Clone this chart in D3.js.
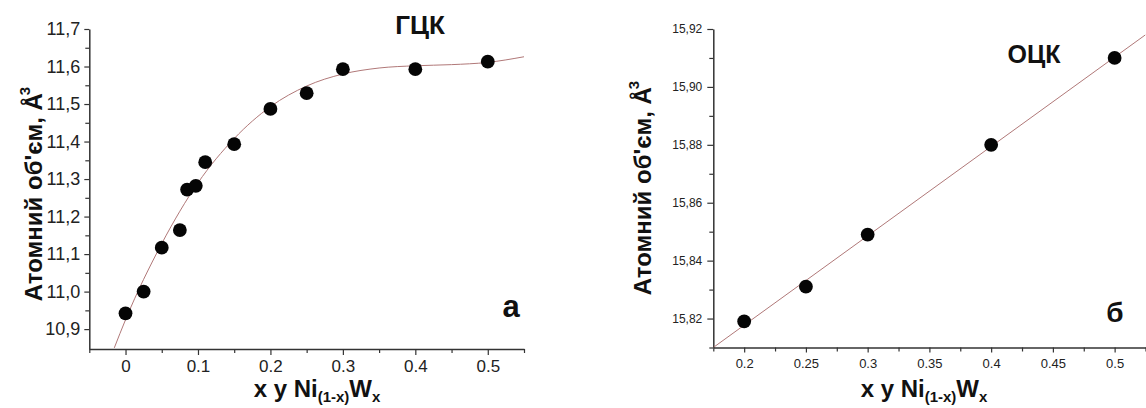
<!DOCTYPE html>
<html>
<head>
<meta charset="utf-8">
<script src="https://cdn.jsdelivr.net/npm/d3@7"></script>
<style>
  html, body { margin: 0; padding: 0; background: #fff; }
  svg { display: block; font-family: "Liberation Sans", Arial, sans-serif; }
  .axis path, .axis line { stroke: #333; }
  .axis path { stroke-width: 1.5; }
  .axis line { stroke-width: 1.2; }
  .axis text { fill: #222; }
</style>
</head>
<body>
<svg id="chart" width="1146" height="408"></svg>
<script>
// FCC (ГЦК) atomic volume vs tungsten fraction
const fccX = [0, 0.025, 0.05, 0.075, 0.085, 0.097, 0.11, 0.15, 0.2, 0.25, 0.3, 0.4, 0.5];
const fccV = [10.942, 11.0, 11.117, 11.164, 11.272, 11.282, 11.345, 11.393, 11.487, 11.529, 11.593, 11.593, 11.613];
// smooth fit curve through the FCC data
const fccFitX = [-0.0155, 0, 0.05, 0.1, 0.15, 0.2, 0.25, 0.3, 0.35, 0.4, 0.45, 0.5, 0.55];
const fccFitV = [10.85, 10.925, 11.128, 11.29, 11.408, 11.493, 11.548, 11.58, 11.596, 11.602, 11.605, 11.611, 11.626];
// FCC axis ticks
const fccXTicks = [0, 0.1, 0.2, 0.3, 0.4, 0.5];
const fccXMinor = [-0.05, 0.05, 0.15, 0.25, 0.35, 0.45, 0.55];
const fccYTicks = [10.9, 11.0, 11.1, 11.2, 11.3, 11.4, 11.5, 11.6, 11.7];
const fccYMinor = [10.95, 11.05, 11.15, 11.25, 11.35, 11.45, 11.55, 11.65];

// BCC (ОЦК) atomic volume vs tungsten fraction
const bccX = [0.2, 0.25, 0.3, 0.4, 0.5];
const bccV = [15.819, 15.831, 15.849, 15.880, 15.910];
// linear fit line
const bccFitX = [0.175, 0.525];
const bccFitV = [15.81, 15.918];
// BCC axis ticks
const bccXTicks = [0.2, 0.25, 0.3, 0.35, 0.4, 0.45, 0.5];
const bccXMinor = [0.175, 0.225, 0.275, 0.325, 0.375, 0.425, 0.475, 0.525];
const bccYTicks = [15.82, 15.84, 15.86, 15.88, 15.90, 15.92];
const bccYMinor = [15.81, 15.83, 15.85, 15.87, 15.89, 15.91];

const svg = d3.select("#chart");
const FIT_COLOR = "#b07878";
const yTitle = "Атомний об'єм, Å";

function panel(opts) {
  const g = svg.append("g");
  const x = d3.scaleLinear().domain(opts.xDomain).range(opts.xRange);
  const y = d3.scaleLinear().domain(opts.yDomain).range(opts.yRange);
  const [x0, x1] = opts.xRange;
  const [yb, yt] = opts.yRange;

  const clipId = "clip-" + opts.id;
  svg.append("clipPath").attr("id", clipId)
    .append("rect").attr("x", x0).attr("y", yt).attr("width", x1 - x0).attr("height", yb - yt);

  // minor ticks
  g.append("g").attr("class", "axis").attr("transform", `translate(0,${yb})`)
    .call(d3.axisBottom(x).tickValues(opts.xMinor).tickSize(opts.xMinorLen).tickFormat(""))
    .call(s => s.select(".domain").remove());
  g.append("g").attr("class", "axis").attr("transform", `translate(${x0},0)`)
    .call(d3.axisLeft(y).tickValues(opts.yMinor).tickSize(opts.yMinorLen).tickFormat(""))
    .call(s => s.select(".domain").remove());

  // major ticks with labels
  const xa = g.append("g").attr("class", "axis").attr("transform", `translate(0,${yb})`)
    .call(d3.axisBottom(x).tickValues(opts.xTicks).tickSizeInner(opts.xMajorLen).tickSizeOuter(0)
      .tickPadding(opts.xPad).tickFormat(opts.xFormat));
  xa.selectAll("text").attr("font-size", opts.tickFont).attr("font-family", "Liberation Sans, Arial, sans-serif");

  const ya = g.append("g").attr("class", "axis").attr("transform", `translate(${x0},0)`)
    .call(d3.axisLeft(y).tickValues(opts.yTicks).tickSizeInner(opts.yMajorLen).tickSizeOuter(0)
      .tickPadding(opts.yPad).tickFormat(opts.yFormat));
  ya.selectAll("text").attr("font-size", opts.yTickFont).attr("font-family", "Liberation Sans, Arial, sans-serif");

  // fit line
  const fitData = opts.fitX.map((d, i) => [d, opts.fitV[i]]);
  g.append("path")
    .datum(fitData)
    .attr("clip-path", `url(#${clipId})`)
    .attr("fill", "none")
    .attr("stroke", FIT_COLOR)
    .attr("stroke-width", 1)
    .attr("d", d3.line().x(d => x(d[0])).y(d => y(d[1])).curve(d3.curveMonotoneX));

  // data points
  const pts = opts.dataX.map((d, i) => [d, opts.dataV[i]]);
  g.append("g").selectAll("circle").data(pts).join("circle")
    .attr("cx", d => x(d[0])).attr("cy", d => y(d[1]))
    .attr("r", 6.9).attr("fill", "#050505");

  // y axis title
  const yt2 = g.append("text")
    .attr("transform", `translate(${opts.yTitlePos[0]},${opts.yTitlePos[1]}) rotate(-90)`)
    .attr("text-anchor", "middle")
    .attr("font-size", 24).attr("font-weight", "bold").attr("fill", "#111");
  yt2.append("tspan").text(yTitle);
  yt2.append("tspan").attr("font-size", 15).attr("dy", -12).attr("dx", -2).text("3");

  // x axis title
  const xt = g.append("text")
    .attr("x", opts.xTitlePos[0]).attr("y", opts.xTitlePos[1])
    .attr("text-anchor", "middle")
    .attr("font-size", 24).attr("font-weight", "bold").attr("fill", "#111");
  xt.append("tspan").text("x y Ni");
  xt.append("tspan").attr("font-size", 15).attr("dy", 5).text("(1-x)");
  xt.append("tspan").attr("dy", -5).text("W");
  xt.append("tspan").attr("font-size", 15).attr("dy", 5).text("x");

  // phase label
  g.append("text")
    .attr("x", opts.phasePos[0]).attr("y", opts.phasePos[1])
    .attr("text-anchor", "middle")
    .attr("font-size", opts.phaseFont).attr("font-weight", "bold").attr("fill", "#111")
    .text(opts.phase);

  // panel letter
  g.append("text")
    .attr("x", opts.letterPos[0]).attr("y", opts.letterPos[1])
    .attr("text-anchor", "middle")
    .attr("font-size", opts.letterFont).attr("font-weight", "bold").attr("fill", "#111")
    .text(opts.letter);
}

const comma = f => d => f(d).replace(".", ",");

panel({
  id: "fcc",
  xDomain: [-0.05, 0.55], xRange: [89.3, 524],
  yDomain: [10.847, 11.7], yRange: [349, 29],
  xTicks: fccXTicks, xMinor: fccXMinor, yTicks: fccYTicks, yMinor: fccYMinor,
  xMajorLen: 6, xMinorLen: 4, yMajorLen: 5, yMinorLen: 4,
  xPad: 5, yPad: 4,
  xFormat: d => d === 0 ? "0" : d3.format(".1f")(d),
  yFormat: comma(d3.format(".1f")),
  tickFont: 17, yTickFont: 18,
  fitX: fccFitX, fitV: fccFitV, dataX: fccX, dataV: fccV,
  yTitlePos: [42, 194], xTitlePos: [317, 397],
  phase: "ГЦК", phasePos: [420, 34], phaseFont: 26,
  letter: "а", letterPos: [511, 317], letterFont: 31
});

panel({
  id: "bcc",
  xDomain: [0.175, 0.525], xRange: [713.3, 1145.5],
  yDomain: [15.81, 15.92], yRange: [347.5, 29],
  xTicks: bccXTicks, xMinor: bccXMinor, yTicks: bccYTicks, yMinor: bccYMinor,
  xMajorLen: 5, xMinorLen: 4, yMajorLen: 6, yMinorLen: 4,
  xPad: 6, yPad: 5,
  xFormat: d => String(d),
  yFormat: comma(d3.format(".2f")),
  tickFont: 13, yTickFont: 12,
  fitX: bccFitX, fitV: bccFitV, dataX: bccX, dataV: bccV,
  yTitlePos: [651, 188], xTitlePos: [924, 397],
  phase: "ОЦК", phasePos: [1034, 63], phaseFont: 25,
  letter: "б", letterPos: [1115, 322], letterFont: 28
});
</script>
</body>
</html>
